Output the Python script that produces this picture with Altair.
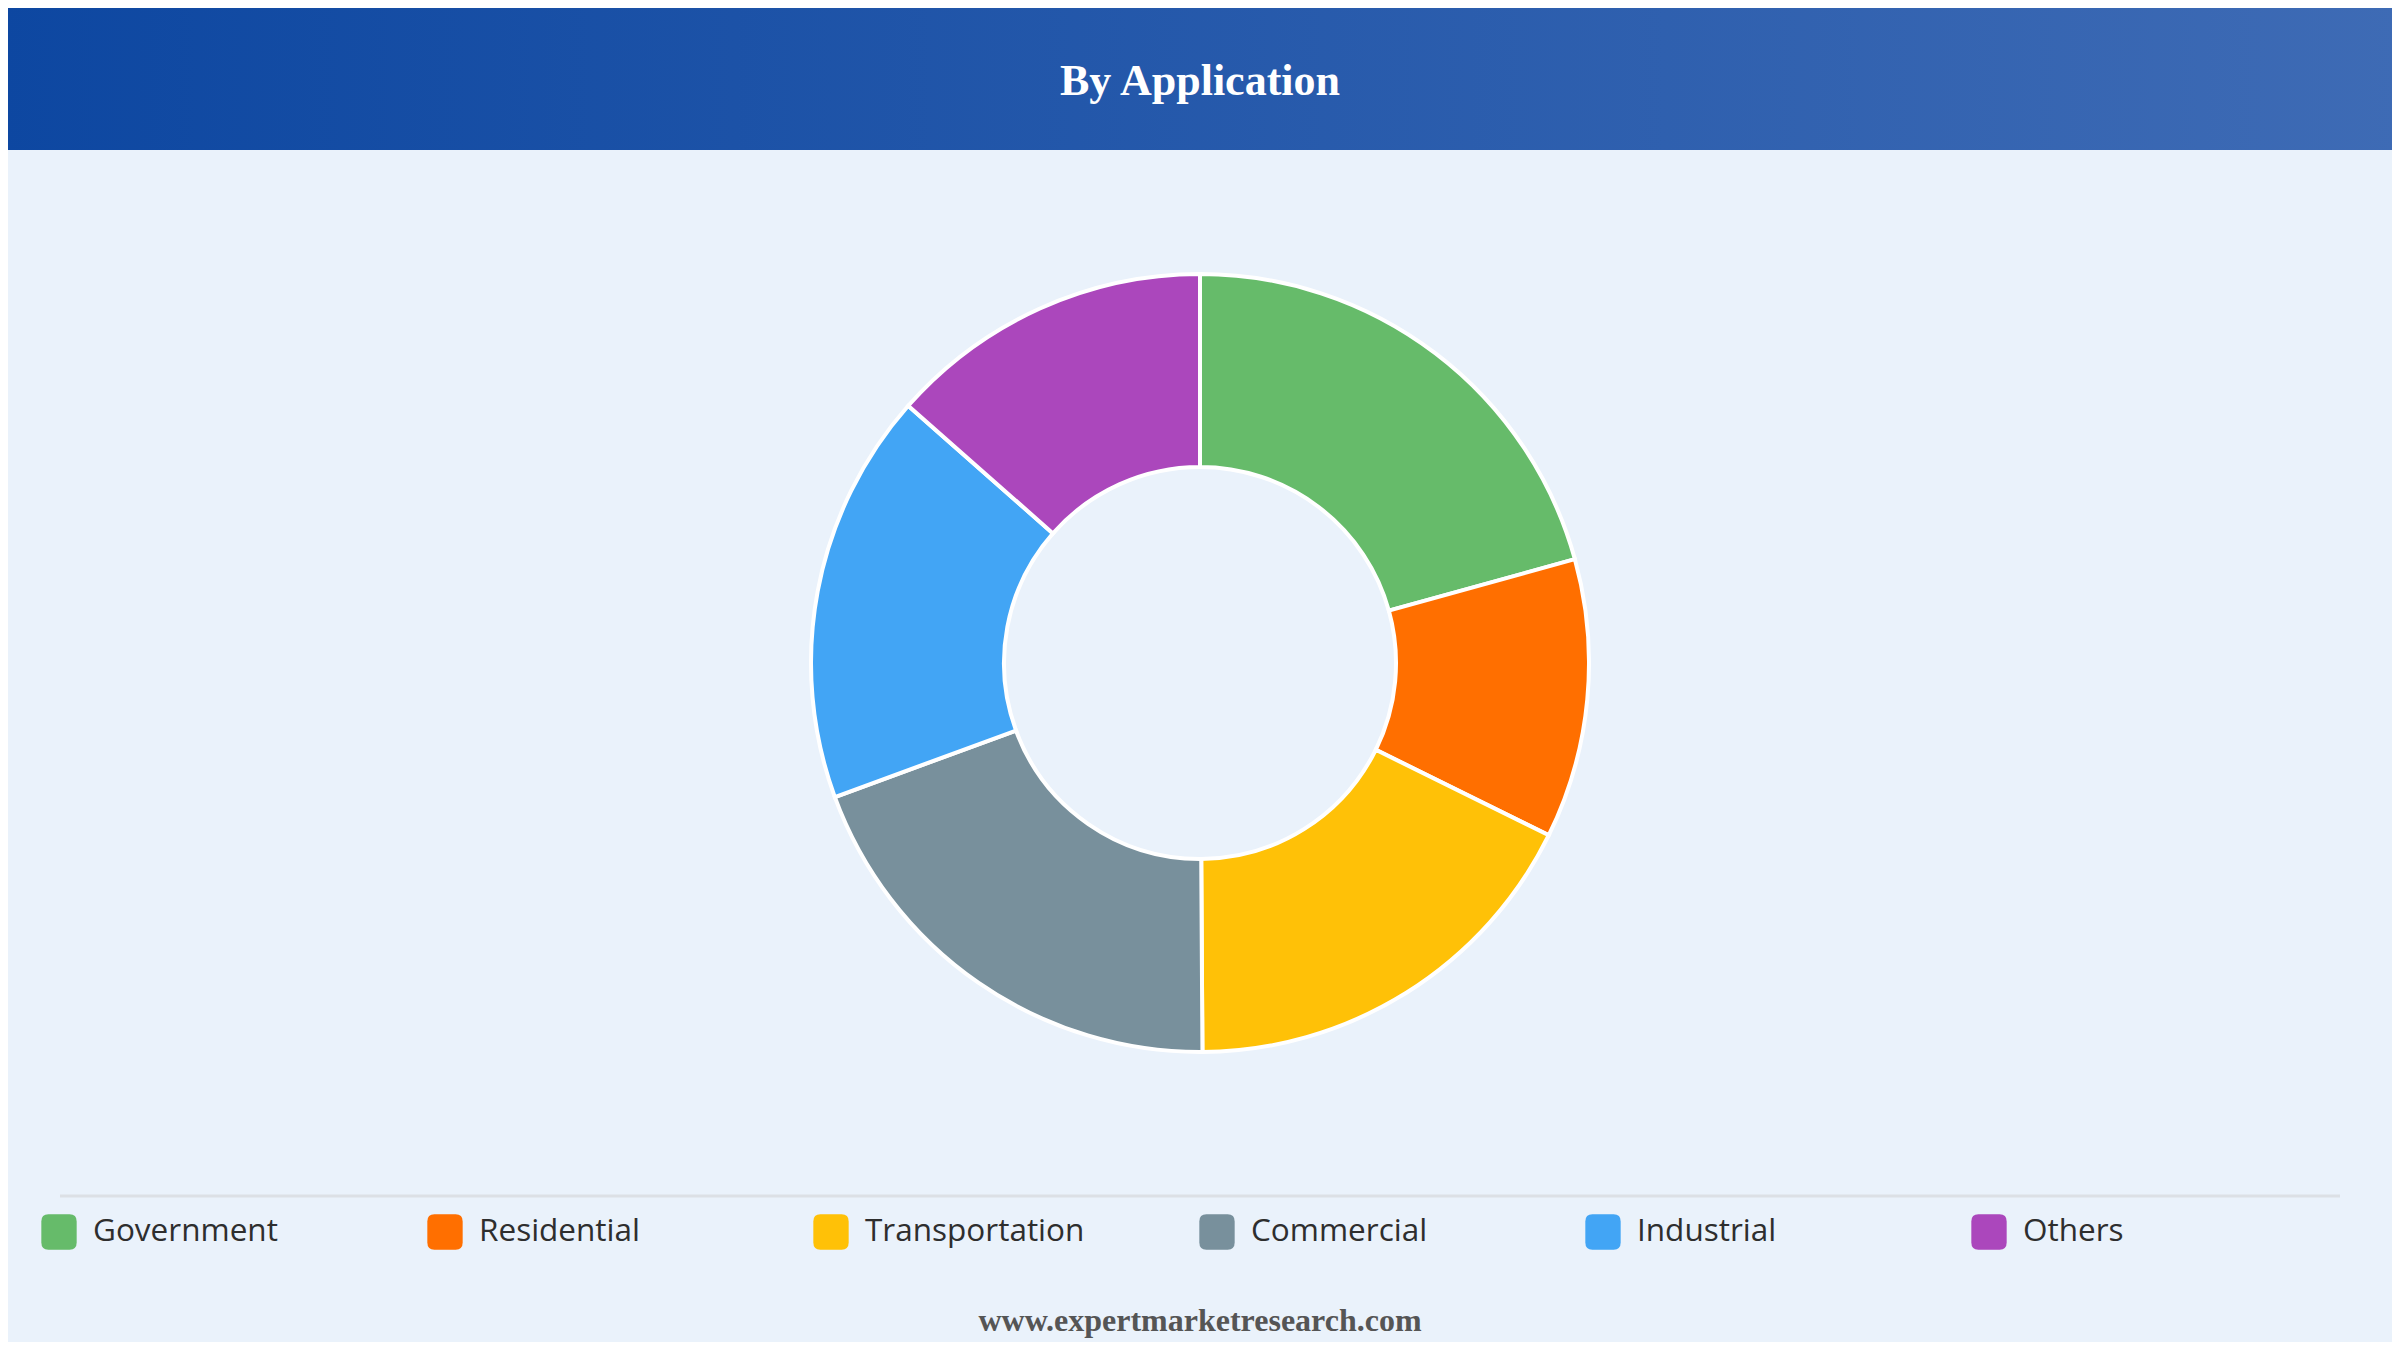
import altair as alt
import pandas as pd

# ---- data ----
categories = ["Government", "Residential", "Transportation", "Commercial", "Industrial", "Others"]
values = [20.7, 11.6, 17.6, 19.5, 17.1, 13.5]
colors = ["#66BB6A", "#FF6F00", "#FFC107", "#78909C", "#42A5F5", "#AB47BC"]
title_text = "By Application"
footer_text = "www.expertmarketresearch.com"

W, H = 2384, 1334

df = pd.DataFrame({"category": categories, "value": values, "idx": list(range(len(categories)))})
one = pd.DataFrame({"t": [title_text], "f": [footer_text]})

color_scale = alt.Scale(domain=categories, range=colors)

header = alt.Chart(one).mark_rect(
    color={
        "gradient": "linear",
        "x1": 0, "y1": 0, "x2": 1, "y2": 0,
        "stops": [
            {"offset": 0, "color": "#0D47A1"},
            {"offset": 1, "color": "#3E6BB5"},
        ],
    }
).encode(x=alt.value(-8), x2=alt.value(W + 8), y=alt.value(-8), y2=alt.value(142))

title = alt.Chart(one).mark_text(
    font="Liberation Serif", fontWeight="bold", fontSize=44, color="white",
    align="center", baseline="middle",
).encode(x=alt.value(W / 2), y=alt.value(74), text="t:N")

donut = alt.Chart(df).mark_arc(
    innerRadius=196, outerRadius=389, stroke="white", strokeWidth=4
).encode(
    theta=alt.Theta("value:Q", stack=True),
    color=alt.Color("category:N", scale=color_scale, legend=None),
    order=alt.Order("idx:Q"),
    x=alt.value(1192),
    y=alt.value(655),
)

sep = alt.Chart(one).mark_rule(color="#DCE0E5", strokeWidth=3).encode(
    x=alt.value(52), x2=alt.value(2332), y=alt.value(1188)
)

legend_x = alt.X("category:N", scale=alt.Scale(domain=categories, type="point", range=[51, 1981], padding=0), axis=None)

rounded = ("M -0.6,-1 L 0.6,-1 Q 1,-1 1,-0.6 L 1,0.6 Q 1,1 0.6,1 L -0.6,1 "
           "Q -1,1 -1,0.6 L -1,-0.6 Q -1,-1 -0.6,-1 Z")

leg_sym = alt.Chart(df).mark_point(
    shape=rounded, filled=True, size=1250, opacity=1, strokeWidth=0
).encode(
    x=legend_x,
    y=alt.value(1224),
    color=alt.Color("category:N", scale=color_scale, legend=None),
)

leg_txt = alt.Chart(df).mark_text(
    font="Open Sans", fontSize=31.5, color="#2E2E2E", align="left", baseline="middle", dx=34
).encode(
    x=legend_x,
    y=alt.value(1224),
    text="category:N",
)

footer = alt.Chart(one).mark_text(
    font="Liberation Serif", fontWeight="bold", fontSize=32, color="#555555",
    align="center", baseline="middle",
).encode(x=alt.value(W / 2), y=alt.value(1313), text="f:N")

chart = alt.layer(header, title, donut, sep, leg_sym, leg_txt, footer).properties(
    width=W, height=H, autosize=alt.AutoSizeParams(type="none"), padding=0,
    background="#EAF2FB",
).configure_view(stroke=None)

chart.save("out.html", embed_options={"renderer": "svg", "actions": False})
